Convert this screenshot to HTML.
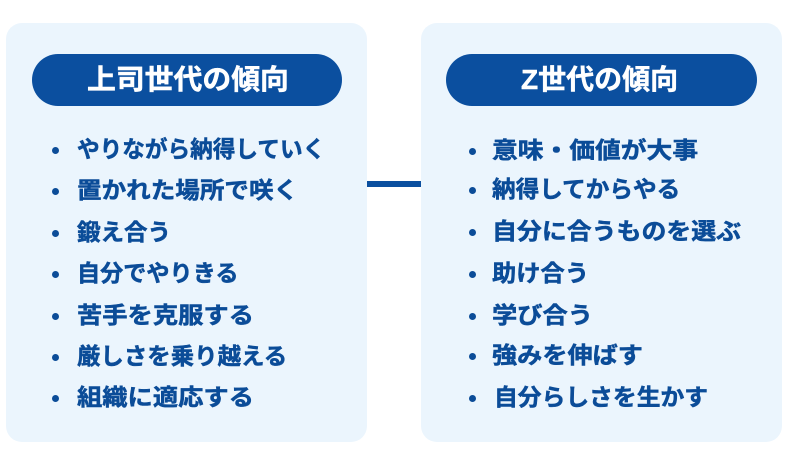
<!DOCTYPE html>
<html>
<head>
<meta charset="utf-8">
<style>
  html, body { margin:0; padding:0; }
  body { width:790px; height:462px; background:#ffffff; position:relative; overflow:hidden;
         font-family:"Liberation Sans","Noto Sans CJK JP",sans-serif; }
  .panel { position:absolute; background:#EBF5FD; border-radius:16px; }
  .pill { position:absolute; background:#0B4F9F; border-radius:26px; }
  .title { position:absolute; color:#fff; font-weight:bold; font-size:28px; line-height:40px;
           white-space:nowrap; transform-origin:left center; -webkit-text-stroke:0.5px #fff; }
  .conn { position:absolute; background:#0B4F9F; }
  .dot { position:absolute; width:7px; height:7px; border-radius:50%; background:#0B4C98; }
  .t { position:absolute; color:#0B4C98; font-weight:bold; font-size:23px; line-height:30px;
       white-space:nowrap; transform-origin:left center;
       -webkit-text-stroke:0.5px #0B4C98; }
</style>
</head>
<body>
  <div class="panel" style="left:6px; top:23px; width:361px; height:419px;"></div>
  <div class="panel" style="left:421px; top:23px; width:361px; height:419px;"></div>
  <div class="conn" style="left:367px; top:181px; width:54px; height:6px;"></div>

  <div class="pill" style="left:32px; top:54px; width:310px; height:52px;"></div>
  <div class="pill" style="left:446px; top:54px; width:311px; height:52px;"></div>

  <div class="title" style="left:87px; top:60px; transform:scaleX(1.03);">上司世代の傾向</div>
  <div class="title" style="left:521px; top:60px;">Z世代の傾向</div>

  <!-- left bullets -->
  <div class="dot" style="left:52px; top:147px;"></div>
  <div class="dot" style="left:52px; top:188px;"></div>
  <div class="dot" style="left:52px; top:230px;"></div>
  <div class="dot" style="left:52px; top:271px;"></div>
  <div class="dot" style="left:52px; top:313px;"></div>
  <div class="dot" style="left:52px; top:354px;"></div>
  <div class="dot" style="left:52px; top:395px;"></div>

  <div class="t" style="left:77px; top:134px; transform:scaleX(0.984);">やりながら納得していく</div>
  <div class="t" style="left:77px; top:175px; transform:scaleX(1.068);">置かれた場所で咲く</div>
  <div class="t" style="left:77px; top:217px; transform:scaleX(1.022);">鍛え合う</div>
  <div class="t" style="left:77px; top:258px; transform:scaleX(1.006);">自分でやりきる</div>
  <div class="t" style="left:77px; top:300px; transform:scaleX(1.099);">苦手を克服する</div>
  <div class="t" style="left:77px; top:341px; transform:scaleX(1.019);">厳しさを乗り越える</div>
  <div class="t" style="left:77px; top:382px; transform:scaleX(1.099);">組織に適応する</div>

  <!-- right bullets -->
  <div class="dot" style="left:469px; top:148px;"></div>
  <div class="dot" style="left:469px; top:187px;"></div>
  <div class="dot" style="left:469px; top:229px;"></div>
  <div class="dot" style="left:469px; top:271px;"></div>
  <div class="dot" style="left:469px; top:313px;"></div>
  <div class="dot" style="left:469px; top:353px;"></div>
  <div class="dot" style="left:469px; top:395px;"></div>

  <div class="t" style="left:492px; top:135px; transform:scaleX(1.12);">意味・価値が大事</div>
  <div class="t" style="left:492px; top:174px; transform:scaleX(1.027);">納得してからやる</div>
  <div class="t" style="left:492px; top:216px; transform:scaleX(1.083);">自分に合うものを選ぶ</div>
  <div class="t" style="left:492px; top:258px; transform:scaleX(1.054);">助け合う</div>
  <div class="t" style="left:492px; top:300px; transform:scaleX(1.098);">学び合う</div>
  <div class="t" style="left:492px; top:340px; transform:scaleX(1.094);">強みを伸ばす</div>
  <div class="t" style="left:494px; top:382px; transform:scaleX(1.034);">自分らしさを生かす</div>
</body>
</html>
